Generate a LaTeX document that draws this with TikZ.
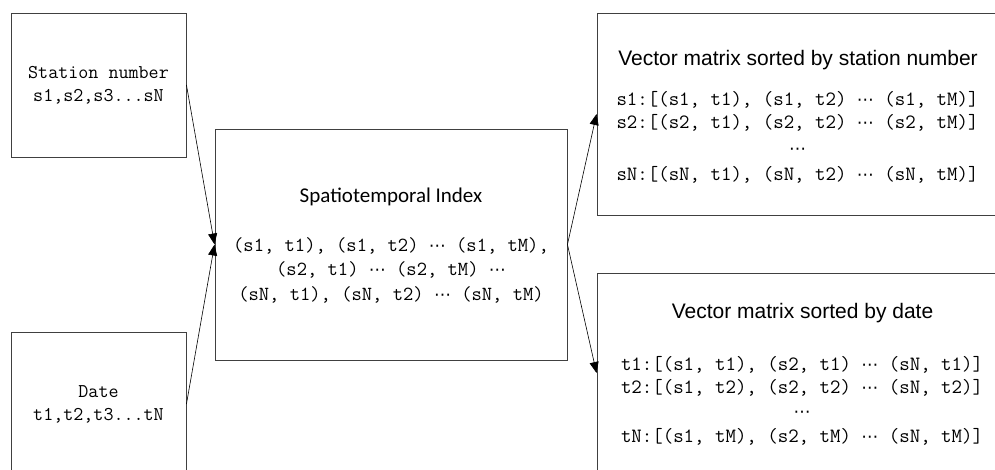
\documentclass[tikz,border=0pt]{standalone}
\usepackage{fontspec}
\usepackage{amsmath}
\usetikzlibrary{arrows.meta}
\newfontfamily\calfont{Carlito}
\newfontfamily\arfont{Liberation Sans}
\newfontfamily\dotfont{DejaVu Sans}
\newcommand{\dd}{{\dotfont\fontsize{17}{23}\selectfont ⋯}}

\begin{document}
\begin{tikzpicture}[x=1pt,y=-1pt,
        box/.style={draw=black!75,line width=0.9pt,inner sep=0pt},
        mono/.style={font=\ttfamily\fontsize{19.5}{23}\selectfont,align=center,inner sep=0pt},
        body/.style={mono,font=\ttfamily\fontsize{20.3}{23}\selectfont},
        arr/.style={-{Triangle[length=11pt,width=9pt]},line width=0.6pt}]
        \useasboundingbox(0,0)rectangle(995,470);
        \clip(0,0)rectangle(995,470);

        \node[box,mono,minimum width=175pt,minimum height=144pt](station)at(98.5,85){Station number\\s1,s2,s3...sN};
        \node[box,mono,minimum width=175pt,minimum height=144pt](date)at(98.5,404){Date\\t1,t2,t3...tN};
        \node[box,minimum width=352pt,minimum height=231pt](index)at(391,244.5){};
        \node[box,minimum width=405pt,minimum height=202pt](bystation)at(799.5,114){};
        \node[box,minimum width=405pt,minimum height=200pt](bydate)at(799.5,373){};

        \node[font=\calfont\fontsize{21}{25}\selectfont](indextitle)at(391,197){Spatiotemporal Index};
        \node[mono,font=\ttfamily\fontsize{20}{24.5}\selectfont](indexbody)at(391,270){(s1, t1), (s1, t2) \dd{} (s1, tM),\\(s2, t1) \dd{} (s2, tM) \dd\\(sN, t1), (sN, t2) \dd{} (sN, tM)};

        \node[font=\arfont\fontsize{21}{25}\selectfont](stationtitle)at(798,60){Vector matrix sorted by station number};
        \node[body](stationbody)at(797.5,137){s1:[(s1, t1), (s1, t2) \dd{} (s1, tM)]\\s2:[(s2, t1), (s2, t2) \dd{} (s2, tM)]\\[3pt]\dd\\[3pt]sN:[(sN, t1), (sN, t2) \dd{} (sN, tM)]};

        \node[font=\arfont\fontsize{21}{25}\selectfont](datetitle)at(802.5,313){Vector matrix sorted by date};
        \node[body](datebody)at(802,401){t1:[(s1, t1), (s2, t1) \dd{} (sN, t1)]\\t2:[(s1, t2), (s2, t2) \dd{} (sN, t2)]\\[1pt]\dd\\[2pt]tN:[(s1, tM), (s2, tM) \dd{} (sN, tM)]};

        \draw[arr](station.east)--(index.west);
        \draw[arr](date.east)--(index.west);
        \draw[arr](index.east)--(bystation.west);
        \draw[arr](index.east)--(bydate.west);
    \end{tikzpicture}
\end{document}
